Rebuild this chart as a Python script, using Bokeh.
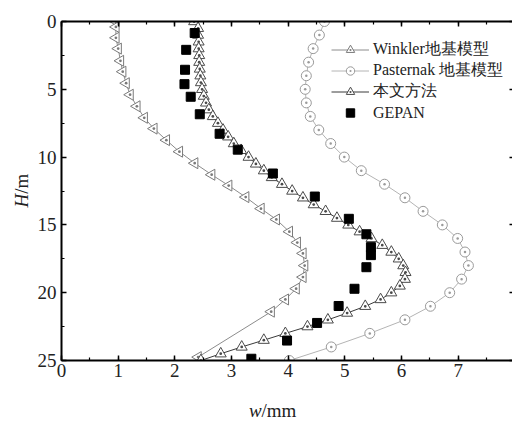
from bokeh.plotting import figure
from bokeh.models import (Range1d, LinearAxis, SingleIntervalTicker, Legend,
                          LegendItem, Label)
from bokeh.embed import file_html
from bokeh.resources import INLINE
import math

# ---------------- data ----------------
winkler_w = [0.96, 0.96, 0.96, 1.00, 1.04, 1.08, 1.14, 1.21, 1.33, 1.46, 1.63, 1.85,
             2.08, 2.35, 2.65, 2.95, 3.25, 3.52, 3.79, 4.02, 4.16, 4.26, 4.29, 4.26,
             4.14, 3.95, 3.70, 2.41]
winkler_H = [0.0, 0.4, 1.2, 2.0, 2.9, 3.7, 4.55, 5.4, 6.25, 7.1, 7.9, 8.75,
             9.6, 10.45, 11.3, 12.1, 12.95, 13.8, 14.6, 15.5, 16.3, 17.1, 18.0, 18.85,
             19.7, 20.5, 21.4, 24.75]

past_w = [4.64, 4.55, 4.44, 4.36, 4.32, 4.30, 4.32, 4.39, 4.54, 4.75, 4.99, 5.29, 5.70,
          6.06, 6.38, 6.72, 6.99, 7.12, 7.18, 7.06, 6.85, 6.51, 6.06, 5.44, 4.76, 4.02]
past_H = [0, 1, 2, 3, 4, 5, 6, 7, 8, 9, 10, 11, 12, 13, 14, 15, 16, 17, 18, 19, 20,
          21, 22, 23, 24, 25]

ours_w = [2.34, 2.41, 2.41, 2.42, 2.42, 2.43, 2.43, 2.44, 2.45, 2.46,
          2.48, 2.51, 2.55, 2.60, 2.67, 2.76, 2.85, 2.94, 3.04, 3.17,
          3.30, 3.43, 3.57, 3.71, 3.89, 4.07, 4.26, 4.45, 4.66, 4.86,
          5.06, 5.26, 5.47, 5.66, 5.82, 5.95, 6.03, 6.07, 6.06, 5.97,
          5.82, 5.63, 5.36, 5.04, 4.70, 4.34, 3.95, 3.57, 3.18, 2.81, 2.46]
ours_H = [0.0, 0.5, 1.0, 1.5, 2.0, 2.5, 3.0, 3.5, 4.0, 4.5,
          5.0, 5.5, 6.0, 6.5, 7.0, 7.5, 8.0, 8.5, 9.0, 9.5,
          10.0, 10.5, 11.0, 11.5, 12.0, 12.5, 13.0, 13.5, 14.0, 14.5,
          15.0, 15.5, 16.0, 16.5, 17.0, 17.5, 18.0, 18.5, 19.0, 19.5,
          20.0, 20.5, 21.0, 21.5, 22.0, 22.5, 23.0, 23.5, 24.0, 24.5, 25.0]

gepan_w = [2.35, 2.20, 2.18, 2.17, 2.28, 2.44, 2.79, 3.11, 3.73, 4.47, 5.07, 5.38,
           5.46, 5.46, 5.38, 5.17, 4.89, 4.51, 3.98, 3.35]
gepan_H = [0.85, 2.09, 3.56, 4.62, 5.55, 6.84, 8.28, 9.45, 11.21, 12.91, 14.55, 15.69,
           16.64, 17.23, 18.12, 19.71, 20.98, 22.23, 23.53, 24.87]

labels = ["Winkler地基模型", "Pasternak 地基模型", "本文方法", "GEPAN"]
x_title_italic, x_title_rest = "w", "/mm"
y_title_italic, y_title_rest = "H", "/m"
x_ticks = [0, 1, 2, 3, 4, 5, 6, 7, 8]
y_ticks = [0, 5, 10, 15, 20, 25]

# ---------------- figure ----------------
p = figure(width=512, height=421, output_backend="svg", toolbar_location=None,
           x_range=Range1d(0, 7.958), y_range=Range1d(25, 0),
           x_axis_location=None, y_axis_location=None,
           min_border_left=61, min_border_right=0, min_border_top=21,
           min_border_bottom=61)
p.outline_line_color = None
p.grid.grid_line_color = None
p.background_fill_color = "white"
p.border_fill_color = "white"


def make_axis(ticker, ticks, show_labels, line=True, minor=True):
    ax = LinearAxis(ticker=ticker)
    ax.axis_line_width = 2
    ax.axis_line_color = "black" if line else None
    ax.major_tick_in = 5
    ax.major_tick_out = 0
    ax.major_tick_line_width = 1.5
    ax.minor_tick_in = 3
    ax.minor_tick_out = 0
    ax.minor_tick_line_width = 1.2
    if not minor:
        ax.minor_tick_line_color = None
    if show_labels:
        ax.major_label_text_font = "Liberation Serif"
        ax.major_label_text_font_size = "19px"
        ax.major_label_text_color = "#222222"
    else:
        ax.major_label_overrides = {t: "" for t in ticks}
        ax.major_label_text_font_size = "1px"
        ax.major_label_standoff = 0
    return ax


bottom = make_axis(SingleIntervalTicker(interval=1, num_minor_ticks=2), x_ticks, True)
bottom.major_label_standoff = 3
left = make_axis(SingleIntervalTicker(interval=5, num_minor_ticks=2), y_ticks, True)
left.major_label_standoff = 5
top = make_axis(SingleIntervalTicker(interval=1, num_minor_ticks=2), x_ticks, False)
right = make_axis(SingleIntervalTicker(interval=5, num_minor_ticks=2), y_ticks, False,
                  line=False, minor=False)
right.major_tick_in = 3

p.add_layout(bottom, "below")
p.add_layout(left, "left")
p.add_layout(top, "above")
p.add_layout(right, "right")

# ---------------- series ----------------
wl = p.line(winkler_w, winkler_H, line_color="#8c8c8c", line_width=1)
ws = p.scatter(winkler_w, winkler_H, marker="triangle_dot", angle=math.pi / 2,
               size=11, line_color="#7a7a7a", fill_color="white", line_width=1)

pl = p.line(past_w, past_H, line_color="#b4b4b4", line_width=1)
ps = p.scatter(past_w, past_H, marker="circle_dot", size=10,
               line_color="#9a9a9a", fill_color="white", line_width=1)

ol = p.line(ours_w, ours_H, line_color="#3a3a3a", line_width=1)
os_ = p.scatter(ours_w, ours_H, marker="triangle_dot", size=11,
                line_color="#4a4a4a", fill_color="white", line_width=1)

gs = p.scatter(gepan_w, gepan_H, marker="square", size=9,
               line_color="black", fill_color="black")

legend = Legend(items=[LegendItem(label=labels[0], renderers=[wl, ws]),
                       LegendItem(label=labels[1], renderers=[pl, ps]),
                       LegendItem(label=labels[2], renderers=[ol, os_]),
                       LegendItem(label=labels[3], renderers=[gs])],
                location=(270, 237), padding=0, spacing=0, margin=0,
                glyph_width=38, glyph_height=21, label_height=21,
                label_standoff=4, border_line_color=None,
                background_fill_alpha=0,
                label_text_font="Liberation Serif", label_text_font_size="16px",
                label_text_color="#222222")
p.add_layout(legend)

# ---------------- axis titles (italic variable + unit) ----------------
# each title sits in a side panel that has spare room, so it is not clipped
p.add_layout(Label(x=3.53, y=28.69, text=x_title_italic, text_align="right",
                   text_baseline="middle", text_font="Liberation Serif",
                   text_font_style="italic", text_font_size="19px",
                   text_color="#222222"), "below")
p.add_layout(Label(x=3.53, y=28.69, text=x_title_rest, text_align="left",
                   text_baseline="middle", text_font="Liberation Serif",
                   text_font_size="19px", text_color="#222222"), "below")
p.add_layout(Label(x=-0.70, y=12.7, text=y_title_italic, text_align="right",
                   text_baseline="middle", angle=math.pi / 2,
                   text_font="Liberation Serif", text_font_style="italic",
                   text_font_size="19px", text_color="#222222"), "left")
p.add_layout(Label(x=-0.70, y=12.7, text=y_title_rest, text_align="left",
                   text_baseline="middle", angle=math.pi / 2,
                   text_font="Liberation Serif", text_font_size="19px",
                   text_color="#222222"), "above")

open("out.html", "w").write(file_html(p, INLINE))
